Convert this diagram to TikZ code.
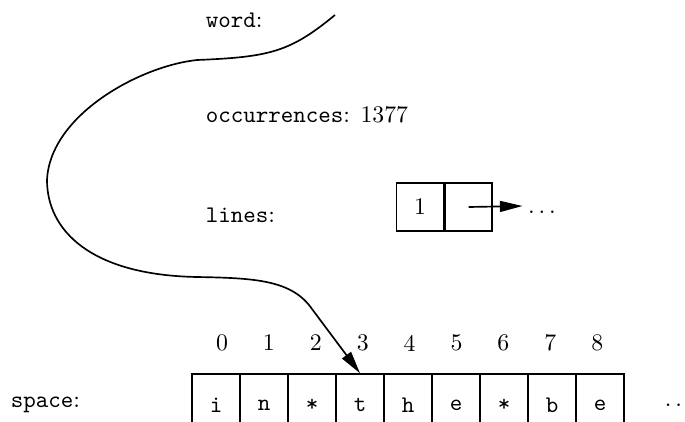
\documentclass[tikz,border=0pt]{standalone}
\usepackage{amsmath}
\usepackage{tikz}
\usetikzlibrary{arrows.meta,positioning}

\begin{document}
\begin{tikzpicture}[x=0.42pt, y=-0.42pt, line width=0.7pt]
\tikzset{
  lbl/.style={anchor=west, inner sep=0pt},
  cell/.style={rectangle, draw=black, minimum width=20.16pt, minimum height=26pt, inner sep=0pt, font=\ttfamily},
  lcell/.style={rectangle, draw=black, minimum width=19.74pt, minimum height=20.16pt, inner sep=0pt},
  arr/.style={-{Triangle[length=9.5pt, width=4.6pt]}},
}
\useasboundingbox (0,0) rectangle (685,421);
% labels on the left
\node[lbl] (word) at (205,20) {\texttt{word}:};
\node[lbl] (occ) at (205,115) {\texttt{occurrences}: 1377};
\node[lbl] (lines) at (205,215) {\texttt{lines}:};
\node[lbl] (space) at (10,405) {\texttt{space}:};
% list of lines
\node[lcell] (l1) at (420,207) {1};
\node[lcell, right=0pt of l1] (l2) {};
\node[inner sep=2pt] (more) at (542,206) {\vphantom{1}$\ldots$};
\draw[arr] (l2.center) -- (more.west);
% the character space
\foreach \ch [count=\i from 0] in {i,n,*,t,h,e,*,b,e} {
  \node[cell] (c\i) at ({216+48*\i},405) {\ch};
  \node (n\i) at ({222+46.9*\i},343) {\i};
}
\node[lbl] (tail) at (664,405) {$\ldots$};
% pointer from word into space
\coordinate (wstart) at (335,15);
\draw[arr] (wstart) .. controls (290,52) and (270,57) .. (197,60)
  .. controls (140,66) and (50,115) .. (47,180)
  .. controls (47,230) and (90,275) .. (197,277)
  .. controls (255,278) and (292,280) .. (312,309)
  -- (c3.north);
\end{tikzpicture}
\end{document}
